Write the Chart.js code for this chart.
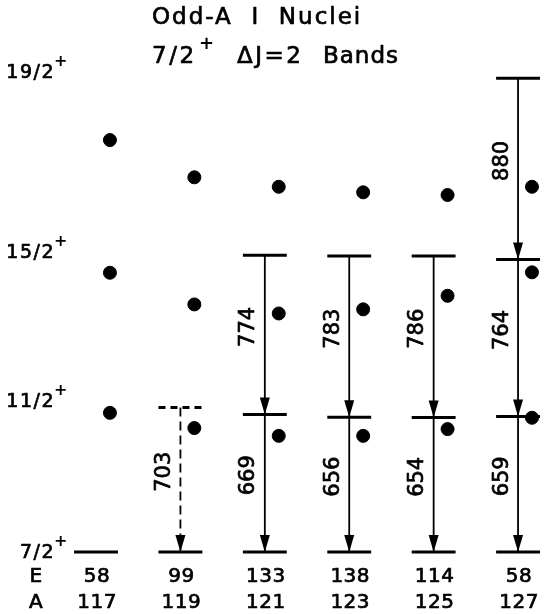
<!DOCTYPE html>
<html>
<head>
<meta charset="utf-8">
<script src="https://cdn.jsdelivr.net/npm/chart.js@4"></script>
<style>
  body { margin: 0; background: #fff; }
  #wrap { width: 547px; height: 614px; }
</style>
</head>
<body>
<div id="wrap"><canvas id="levels" width="547" height="614"></canvas></div>
<script>
// mass numbers and 7/2+ band-head energies (keV)
const massNumbers = [117, 119, 121, 123, 125, 127];
const bandHeadEnergies = [58, 99, 133, 138, 114, 58];

// measured levels above the 7/2+ head (keV) and the gamma rays between them
const levelEnergies = [
    [0],
    [0, 703],
    [0, 669, 1443],
    [0, 656, 1439],
    [0, 654, 1440],
    [0, 659, 1423, 2303],
];
const gammaEnergies = [
    [],
    [703],
    [669, 774],
    [656, 783],
    [654, 786],
    [659, 764, 880],
];
const tentativeBand = [false, true, false, false, false, false];

// calculated 11/2, 15/2, 19/2 levels (dots)
const calcEnergies = [
    [677, 1358, 2003],
    [603, 1204, 1822],
    [565, 1160, 1776],
    [565, 1180, 1749],
    [598, 1246, 1736],
    [653, 1360, 1776],
];

const spinLabels = ['7/2', '11/2', '15/2', '19/2'];
const spinLabelEnergies = [-5, 730, 1455, 2330];

const FONT = '"DejaVu Sans", sans-serif';
const halfWidth = 0.52;   // half length of a level bar, in A units
const dotShift = 0.33;    // dots sit right of the gamma line

const datasets = [];

massNumbers.forEach((a, c) => {
    levelEnergies[c].forEach((e, i) => {
        datasets.push({
            type: 'line',
            data: [{ x: a - halfWidth, y: e }, { x: a + halfWidth, y: e }],
            borderColor: '#000',
            borderWidth: 3,
            borderDash: tentativeBand[c] && i > 0 ? [7, 5] : [],
            pointRadius: 0,
        });
    });
    gammaEnergies[c].forEach((g, i) => {
        datasets.push({
            type: 'line',
            data: [{ x: a, y: levelEnergies[c][i + 1] }, { x: a, y: levelEnergies[c][i] }],
            borderColor: '#000',
            borderWidth: 1.8,
            borderDash: tentativeBand[c] ? [9, 5] : [],
            pointRadius: 0,
        });
    });
});

datasets.push({
    type: 'scatter',
    data: massNumbers.flatMap((a, c) => calcEnergies[c].map(e => ({ x: a + dotShift, y: e }))),
    backgroundColor: '#000',
    borderColor: '#000',
    pointRadius: 6.5,
});

// filled text with a thin outline, to get the heavy lettering of the original
const boldText = (ctx, text, x, y) => {
    ctx.fillText(text, x, y);
    ctx.strokeText(text, x, y);
};

// arrowheads, gamma labels, spin labels, E / A rows and title
const decorations = {
    id: 'decorations',
    afterDatasetsDraw(chart) {
        const ctx = chart.ctx;
        const xs = chart.scales.x;
        const ys = chart.scales.y;
        ctx.save();
        ctx.fillStyle = '#000';
        ctx.strokeStyle = '#000';
        ctx.lineWidth = 0.7;
        ctx.lineJoin = 'round';

        massNumbers.forEach((a, c) => {
            const px = xs.getPixelForValue(a);
            gammaEnergies[c].forEach((g, i) => {
                const top = ys.getPixelForValue(levelEnergies[c][i + 1]);
                const tip = ys.getPixelForValue(levelEnergies[c][i]);
                ctx.beginPath();
                ctx.moveTo(px, tip);
                ctx.lineTo(px - 5, tip - 17);
                ctx.lineTo(px + 5, tip - 17);
                ctx.closePath();
                ctx.fill();

                ctx.save();
                ctx.translate(px - 16, (top + tip) / 2 - 8);
                ctx.rotate(-Math.PI / 2);
                ctx.font = '21px ' + FONT;
                ctx.letterSpacing = '0px';
                ctx.textAlign = 'center';
                ctx.textBaseline = 'middle';
                boldText(ctx, String(g), 0, 0);
                ctx.restore();
            });

            ctx.font = '20px ' + FONT;
            ctx.letterSpacing = '0.5px';
            ctx.textAlign = 'center';
            ctx.textBaseline = 'middle';
            boldText(ctx, String(bandHeadEnergies[c]), px + 1, 577);
            boldText(ctx, String(a), px + 1, 603);
        });

        ctx.textAlign = 'center';
        boldText(ctx, 'E', 36, 577);
        boldText(ctx, 'A', 36, 603);

        spinLabels.forEach((s, i) => {
            const py = ys.getPixelForValue(spinLabelEnergies[i]);
            ctx.font = '19px ' + FONT;
            ctx.letterSpacing = '1.5px';
            ctx.textAlign = 'right';
            ctx.textBaseline = 'middle';
            boldText(ctx, s, 55, py);
            ctx.font = 'bold 16px ' + FONT;
            ctx.letterSpacing = '0px';
            ctx.textAlign = 'left';
            ctx.fillText('+', 54, py - 11);
        });

        // title, laid out piece by piece like the hand lettering
        ctx.font = '23px ' + FONT;
        ctx.textAlign = 'left';
        ctx.textBaseline = 'middle';
        ctx.letterSpacing = '2px';
        boldText(ctx, 'Odd-A  I  Nuclei', 152, 18);
        ctx.letterSpacing = '2.5px';
        boldText(ctx, '7/2', 152, 57);
        ctx.font = 'bold 18px ' + FONT;
        ctx.letterSpacing = '0px';
        ctx.fillText('+', 199, 44);
        ctx.font = '23px ' + FONT;
        ctx.letterSpacing = '2.5px';
        boldText(ctx, '\u0394J=2', 237, 57);
        ctx.letterSpacing = '1px';
        boldText(ctx, 'Bands', 323, 57);

        ctx.restore();
    },
};

new Chart(document.getElementById('levels').getContext('2d'), {
    type: 'scatter',
    data: { datasets },
    options: {
        responsive: false,
        animation: false,
        layout: { autoPadding: false, padding: 0 },
        plugins: { legend: { display: false }, tooltip: { enabled: false } },
        scales: {
            x: { type: 'linear', display: false, min: 114.725, max: 127.686 },
            y: { type: 'linear', display: false, min: -301, max: 2684 },
        },
    },
    plugins: [decorations],
});
</script>
</body>
</html>
